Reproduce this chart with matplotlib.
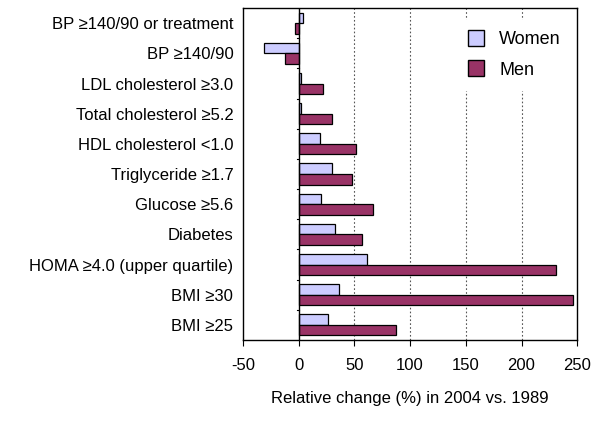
import numpy as np
import matplotlib
matplotlib.use("Agg")
import matplotlib.pyplot as plt
from matplotlib.lines import Line2D

plt.rcParams['font.family'] = ['Liberation Sans', 'DejaVu Sans']

categories = [
    "BP \u2265140/90 or treatment",
    "BP \u2265140/90",
    "LDL cholesterol \u22653.0",
    "Total cholesterol \u22655.2",
    "HDL cholesterol <1.0",
    "Triglyceride \u22651.7",
    "Glucose \u22655.6",
    "Diabetes",
    "HOMA \u22654.0 (upper quartile)",
    "BMI \u226530",
    "BMI \u226525",
]
women = [3.6, -30.8, 2.4, 2.4, 18.9, 30.3, 19.8, 32.3, 61.4, 35.9, 26.4]
men = [-3.0, -12.6, 21.9, 30.3, 51.2, 47.9, 66.8, 56.9, 231.1, 245.8, 87.7]
xticks = [-50, 0, 50, 100, 150, 200, 250]

WOMEN_COLOR = "#CCCCFF"
MEN_COLOR = "#993366"

fig = plt.figure(figsize=(6, 4.26), dpi=100)
ax = fig.add_axes([0.405, 0.202, 0.557, 0.779])

y = np.arange(len(categories))
h = 0.35
ax.barh(y - h / 2, women, height=h, color=WOMEN_COLOR, edgecolor="black", linewidth=0.9, zorder=3)
ax.barh(y + h / 2, men, height=h, color=MEN_COLOR, edgecolor="black", linewidth=0.9, zorder=3)

ax.set_xlim(-50, 250)
ax.set_ylim(len(categories) - 0.5, -0.5)
ax.set_xticks(xticks)
ax.set_xticklabels([str(t) for t in xticks], fontsize=12)
ax.tick_params(axis="x", direction="out", length=4, pad=9)

# category labels without ticks, boundary ticks at x=0
ax.set_yticks(y)
ax.set_yticklabels(categories, fontsize=12)
ax.tick_params(axis="y", length=0, pad=7)

for b in np.arange(len(categories) - 1) + 0.5:
    ax.plot([-1.6, 0], [b, b], color="black", lw=0.8, zorder=4, clip_on=False)
ax.axvline(0, color="black", lw=1.0, zorder=4)

for g in [50, 100, 150, 200]:
    ax.axvline(g, color="#555555", lw=0.8, ls=(0, (1.5, 2)), zorder=1)

for s in ax.spines.values():
    s.set_linewidth(1.0)

ax.set_xlabel("Relative change (%) in 2004 vs. 1989", fontsize=12, labelpad=13)

handles = [
    Line2D([], [], marker="s", ls="", markersize=11, markerfacecolor=WOMEN_COLOR, markeredgecolor="black", label="Women"),
    Line2D([], [], marker="s", ls="", markersize=11, markerfacecolor=MEN_COLOR, markeredgecolor="black", label="Men"),
]
leg = ax.legend(handles=handles, loc="upper right", bbox_to_anchor=(1.01, 0.99), frameon=True,
                fontsize=13, handletextpad=0.25, labelspacing=0.75, borderpad=0.6)
leg.get_frame().set_edgecolor("white")
leg.get_frame().set_facecolor("white")
leg.get_frame().set_alpha(1.0)
leg.set_zorder(5)

fig.savefig("out.png", dpi=100)
